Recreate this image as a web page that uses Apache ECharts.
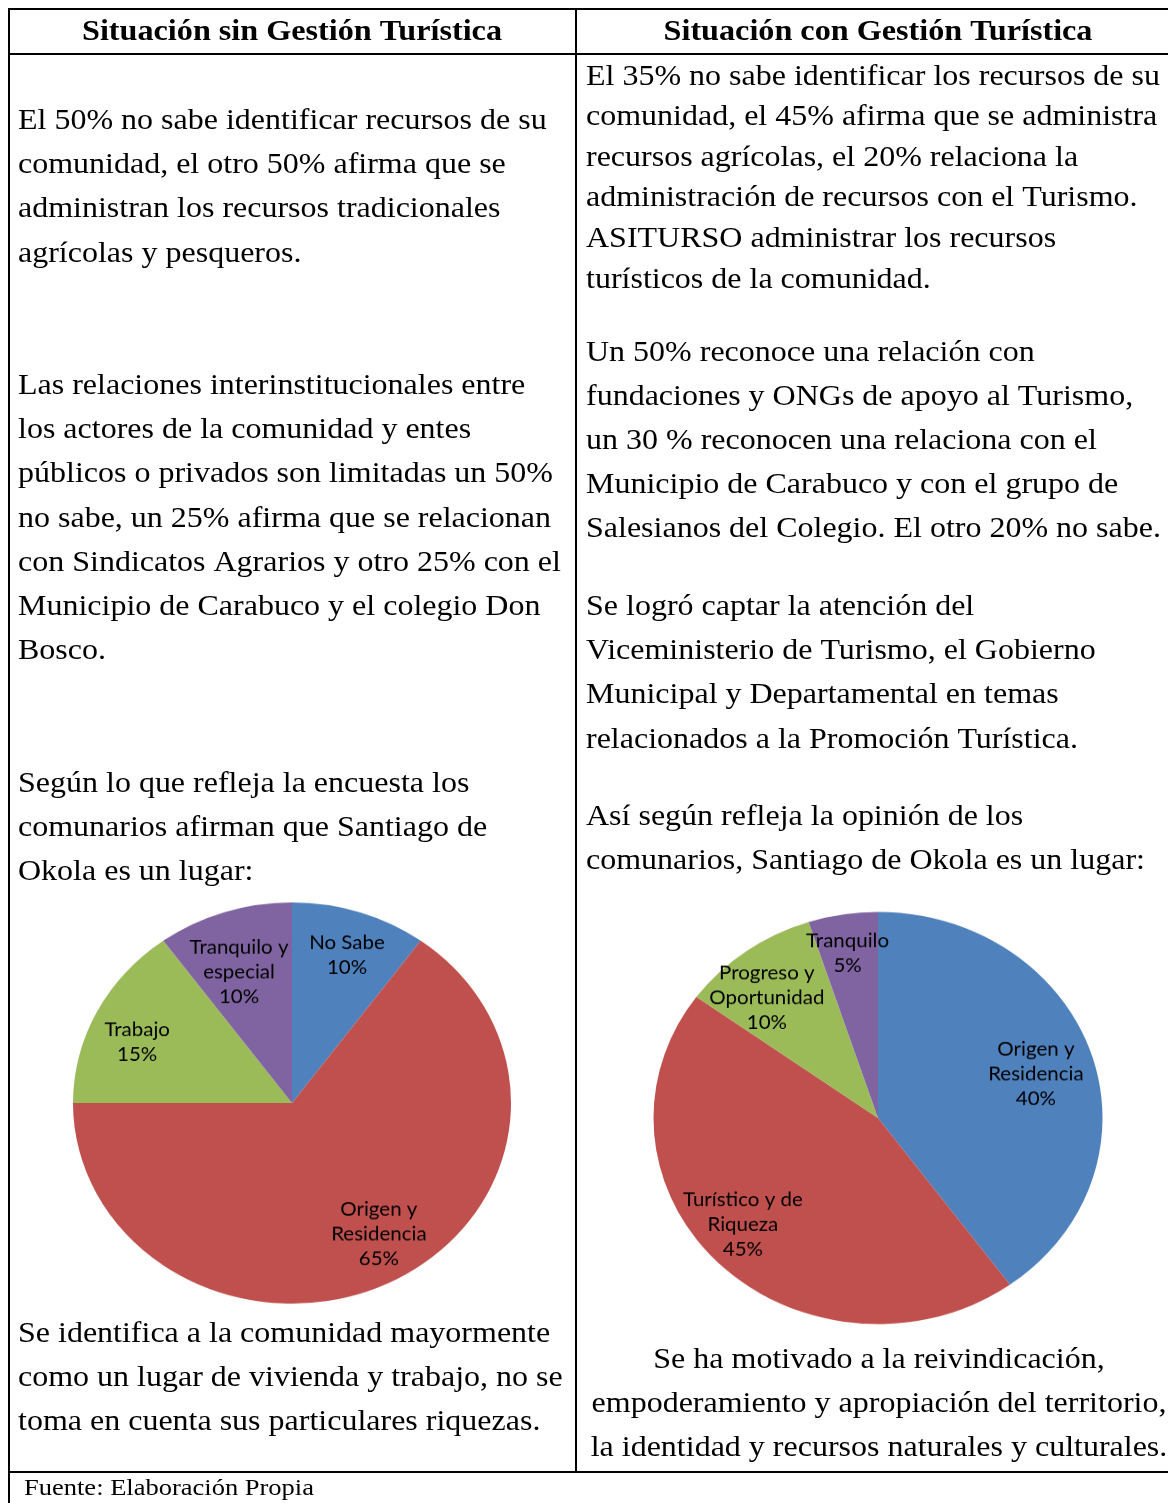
<!DOCTYPE html>
<html>
<head>
<meta charset="utf-8">
<script src="https://cdn.jsdelivr.net/npm/echarts@6/dist/echarts.min.js"></script>
<style>
html,body{margin:0;padding:0;background:#fff;}
#main{position:absolute;left:0;top:0;width:1168px;height:1503px;}
#pie1{position:absolute;left:42px;top:852.5px;width:500px;height:500px;transform:scaleY(0.916);transform-origin:50% 50%;}
#pie2{position:absolute;left:627.5px;top:868px;width:500px;height:500px;transform:scaleY(0.918);transform-origin:50% 50%;}
</style>
</head>
<body>
<div id="main"></div>
<div id="pie1"></div>
<div id="pie2"></div>
<script>
// ---- Data ----
const headers = ['Situación sin Gestión Turística', 'Situación con Gestión Turística'];

const leftLines = [
  ['El 50% no sabe identificar recursos de su', 119],
  ['comunidad, el otro 50% afirma que se', 163],
  ['administran los recursos tradicionales', 207],
  ['agrícolas y pesqueros.', 252],
  ['Las relaciones interinstitucionales entre', 384],
  ['los actores de la comunidad y entes', 428],
  ['públicos o privados son limitadas un 50%', 472],
  ['no sabe, un 25% afirma que se relacionan', 517],
  ['con Sindicatos Agrarios y otro 25% con el', 561],
  ['Municipio de Carabuco y el colegio Don', 605],
  ['Bosco.', 649],
  ['Según lo que refleja la encuesta los', 782],
  ['comunarios afirman que Santiago de', 826],
  ['Okola es un lugar:', 870],
  ['Se identifica a la comunidad mayormente', 1332],
  ['como un lugar de vivienda y trabajo, no se', 1376],
  ['toma en cuenta sus particulares riquezas.', 1420]
];

const rightLines = [
  ['El 35% no sabe identificar los recursos de su', 75],
  ['comunidad, el 45% afirma que se administra', 115],
  ['recursos agrícolas, el 20% relaciona la', 156],
  ['administración de recursos con el Turismo.', 196],
  ['ASITURSO administrar los recursos', 237],
  ['turísticos de la comunidad.', 278],
  ['Un 50% reconoce una relación con', 351],
  ['fundaciones y ONGs de apoyo al Turismo,', 395],
  ['un 30 % reconocen una relaciona con el', 439],
  ['Municipio de Carabuco y con el grupo de', 483],
  ['Salesianos del Colegio. El otro 20% no sabe.', 527],
  ['Se logró captar la atención del', 605],
  ['Viceministerio de Turismo, el Gobierno', 649],
  ['Municipal y Departamental en temas', 693],
  ['relacionados a la Promoción Turística.', 738],
  ['Así según refleja la opinión de los', 815],
  ['comunarios, Santiago de Okola es un lugar:', 859]
];

const rightCentered = [
  ['Se ha motivado a la reivindicación,', 1358],
  ['empoderamiento y apropiación del territorio,', 1402],
  ['la identidad y recursos naturales y culturales.', 1446]
];

const footer = 'Fuente: Elaboración Propia';

const pie1Names = ['No Sabe', 'Origen y\nResidencia', 'Trabajo', 'Tranquilo y\nespecial'];
const pie1Values = [10, 65, 15, 10];
const pie1Colors = ['#4F81BD', '#C0504D', '#9BBB59', '#8064A2'];

const pie2Names = ['Origen y\nResidencia', 'Turístico y de\nRiqueza', 'Progreso y\nOportunidad', 'Tranquilo'];
const pie2Values = [40, 45, 10, 5];
const pie2Colors = ['#4F81BD', '#C0504D', '#9BBB59', '#8064A2'];

// label nudges (dx, dy) in px for each slice label
const pie1Nudge = [[2, 2], [9, -9], [-2, 12], [0, 20]];
const pie2Nudge = [[-9, 6.5], [-11, -7.6], [-8, 11.5], [-3, -5.5]];

// ---- Table & text ----
const FAMILY = 'Liberation Serif';
const FS = 30;
const DY = 2;
const mctx = document.createElement('canvas').getContext('2d');
function measure(weight, size, t) {
  mctx.font = weight + ' ' + size + 'px "' + FAMILY + '"';
  return mctx.measureText(t).width;
}
// horizontal stretch of the reference (text widths in px)
const SX = 574 / measure('normal', FS, rightLines[0][0]);
const SXH = 420 / measure('bold', FS, headers[0]);
const SXF = 290 / measure('normal', 24, footer);

const els = [];
function line(x1, y1, x2, y2) {
  els.push({type:'line', shape:{x1, y1, x2, y2}, style:{stroke:'#000', lineWidth:2}, silent:true});
}
line(8, 9, 1168, 9);
line(8, 54, 1168, 54);
line(8, 1472, 1168, 1472);
line(9, 8, 9, 1503);
line(576, 9, 576, 1472);

function txt(t, x, y, size, weight, align, sx) {
  els.push({type:'text', x:x, y:y + DY, scaleX:sx,
    style:{text:t, fontFamily:FAMILY, fontSize:size, fontWeight:weight, fill:'#000', align:align, verticalAlign:'middle'}});
}
txt(headers[0], 292, 30, FS, 'bold', 'center', SXH);
txt(headers[1], 878, 30, FS, 'bold', 'center', SXH);
leftLines.forEach(([t, y]) => txt(t, 18, y, FS, 'normal', 'left', SX));
rightLines.forEach(([t, y]) => txt(t, 586, y, FS, 'normal', 'left', SX));
rightCentered.forEach(([t, y]) => txt(t, 879, y, FS, 'normal', 'center', SX));
txt(footer, 24, 1487, 24, 'normal', 'left', SXF);

const main = echarts.init(document.getElementById('main'), null, {renderer:'canvas'});
main.setOption({animation:false, graphic:{elements:els}});

// ---- Pies ----
function pieOption(names, values, colors, nudge, r, labelR) {
  const data = names.map((n, i) => ({name:n, value:values[i], itemStyle:{color:colors[i]}}));
  return {
    animation:false,
    series:[
      {type:'pie', center:['50%','50%'], radius:[0, r], startAngle:90, clockwise:true,
       silent:true, avoidLabelOverlap:false, minShowLabelAngle:0,
       itemStyle:{borderWidth:0},
       label:{show:true, position:'outside', alignTo:'none', distanceToLabelLine:0,
              formatter:'{b}\n{d}%', color:'#000',
              fontFamily:'Lato, "Open Sans", sans-serif', fontSize:20.5, lineHeight:27},
       labelLine:{show:false, length:labelR - r, length2:0},
       labelLayout: function (p) {
         const n = nudge[p.dataIndex];
         return {align:'center', verticalAlign:'middle', dx:n[0], dy:n[1]};
       },
       data:data}
    ]
  };
}
const p1 = echarts.init(document.getElementById('pie1'), null, {renderer:'canvas'});
p1.setOption(pieOption(pie1Names, pie1Values, pie1Colors, pie1Nudge, 219, 171.5));
const p2 = echarts.init(document.getElementById('pie2'), null, {renderer:'canvas'});
p2.setOption(pieOption(pie2Names, pie2Values, pie2Colors, pie2Nudge, 224.5, 175.5));
</script>
</body>
</html>
